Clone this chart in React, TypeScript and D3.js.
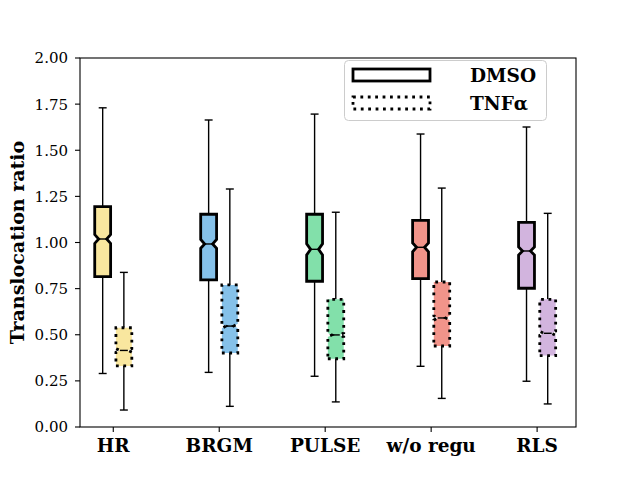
import React from "react";
import * as d3 from "d3";

const categories = ["HR", "BRGM", "PULSE", "w/o regu", "RLS"];
const colors = ["#F9E79F", "#85C1E9", "#82E0AA", "#F1948A", "#D2B4DE"];

// DMSO series
const dmsoLow = [0.29, 0.296, 0.275, 0.329, 0.248];
const dmsoQ1 = [0.815, 0.797, 0.79, 0.804, 0.752];
const dmsoMed = [1.019, 0.992, 0.963, 0.974, 0.954];
const dmsoQ3 = [1.194, 1.153, 1.153, 1.12, 1.109];
const dmsoHigh = [1.73, 1.664, 1.696, 1.588, 1.626];
const dmsoNotch = [0.024, 0.024, 0.03, 0.024, 0.022];

// TNFα series
const tnfLow = [0.092, 0.112, 0.136, 0.155, 0.125];
const tnfQ1 = [0.331, 0.401, 0.37, 0.439, 0.387];
const tnfMed = [0.415, 0.547, 0.499, 0.591, 0.508];
const tnfQ3 = [0.538, 0.77, 0.692, 0.786, 0.692];
const tnfHigh = [0.838, 1.29, 1.164, 1.295, 1.158];
const tnfNotch = [0.01, 0.012, 0.011, 0.012, 0.011];

const yTicks = [0, 0.25, 0.5, 0.75, 1.0, 1.25, 1.5, 1.75, 2.0];

const W = 640, H = 480;
const left = 80, right = 576, top = 58, bottom = 427;
const FONT = "'DejaVu Serif', serif";

export default function App() {
  const x = d3.scaleLinear().domain([0.686, 5.367]).range([left, right]);
  const y = d3.scaleLinear().domain([0, 2]).range([bottom, top]);
  const boxW = 0.15;
  const off = 0.1;

  const renderBox = (
    pos: number, low: number, q1: number, med: number, q3: number, high: number, notch: number,
    color: string, dotted: boolean, key: string
  ) => {
    const l = x(pos - boxW / 2), r = x(pos + boxW / 2);
    const cl = x(pos - boxW / 4), cr = x(pos + boxW / 4);
    const cx = x(pos);
    const pts: [number, number][] = [
      [l, y(q1)], [r, y(q1)], [r, y(med - notch)], [cr, y(med)], [r, y(med + notch)],
      [r, y(q3)], [l, y(q3)], [l, y(med + notch)], [cl, y(med)], [l, y(med - notch)],
    ];
    const path = d3.line()(pts) + "Z";
    return (
      <g key={key}>
        <line x1={cx} x2={cx} y1={y(q1)} y2={y(low)} stroke="#000" strokeWidth={1.4} />
        <line x1={cx} x2={cx} y1={y(q3)} y2={y(high)} stroke="#000" strokeWidth={1.4} />
        <line x1={cl} x2={cr} y1={y(low)} y2={y(low)} stroke="#000" strokeWidth={1.4} />
        <line x1={cl} x2={cr} y1={y(high)} y2={y(high)} stroke="#000" strokeWidth={1.4} />
        <path d={path} fill={color} stroke="#000" strokeWidth={2.8}
          strokeDasharray={dotted ? "2.8 4.6" : undefined} strokeLinejoin="miter" />
        <line x1={cl} x2={cr} y1={y(med)} y2={y(med)} stroke="#000" strokeWidth={1.4} />
      </g>
    );
  };

  return (
    <svg width={W} height={H} style={{ position: "absolute", left: 0, top: 0, background: "#fff" }}
      fontFamily={FONT}>
      <rect x={0} y={0} width={W} height={H} fill="#fff" />
      {categories.map((c, i) =>
        renderBox(i + 1 - off, dmsoLow[i], dmsoQ1[i], dmsoMed[i], dmsoQ3[i], dmsoHigh[i], dmsoNotch[i], colors[i], false, "d" + i)
      )}
      {categories.map((c, i) =>
        renderBox(i + 1 + off, tnfLow[i], tnfQ1[i], tnfMed[i], tnfQ3[i], tnfHigh[i], tnfNotch[i], colors[i], true, "t" + i)
      )}
      {/* axes frame */}
      <rect x={left} y={top} width={right - left} height={bottom - top} fill="none" stroke="#000" strokeWidth={1.1} />
      {/* y ticks */}
      {yTicks.map((t) => (
        <g key={"y" + t}>
          <line x1={left - 5} x2={left} y1={y(t)} y2={y(t)} stroke="#000" strokeWidth={1.1} />
          <text x={left - 12} y={y(t)} dy="0.36em" textAnchor="end" fontSize={15}>{t.toFixed(2)}</text>
        </g>
      ))}
      {/* x ticks */}
      {categories.map((c, i) => (
        <g key={"x" + c}>
          <line x1={x(i + 1)} x2={x(i + 1)} y1={bottom} y2={bottom + 5} stroke="#000" strokeWidth={1.1} />
          <text x={x(i + 1)} y={bottom + 25} textAnchor="middle" fontSize={18.5} fontWeight="bold">{c}</text>
        </g>
      ))}
      <text transform={`translate(24, ${(top + bottom) / 2}) rotate(-90)`} textAnchor="middle"
        fontSize={19} fontWeight="bold">Translocation ratio</text>
      {/* legend */}
      <rect x={344.5} y={60.5} width={202} height={60} rx={4} fill="#fff" fillOpacity={0.8} stroke="#ccc" strokeWidth={1} />
      <rect x={353} y={69} width={77} height={12} fill="none" stroke="#000" strokeWidth={2.8} />
      <rect x={353} y={97} width={77} height={12} fill="none" stroke="#000" strokeWidth={2.8} strokeDasharray="2.8 4.6" />
      <text x={470} y={82} fontSize={18.5} fontWeight="bold">DMSO</text>
      <text x={470} y={110} fontSize={18.5} fontWeight="bold">TNFα</text>
    </svg>
  );
}
